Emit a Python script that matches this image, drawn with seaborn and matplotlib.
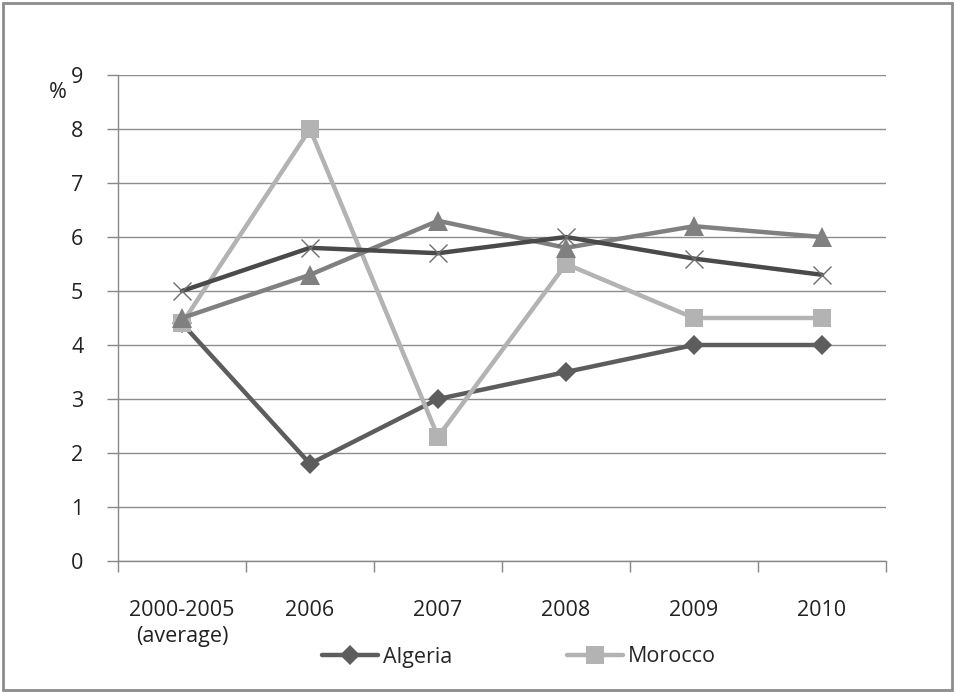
import matplotlib
matplotlib.use("Agg")
import matplotlib.pyplot as plt
import seaborn as sns
import pandas as pd
from matplotlib.lines import Line2D
from matplotlib.patches import Rectangle

categories = ["2000-2005\n(average)", "2006", "2007", "2008", "2009", "2010"]
algeria = [4.4, 1.8, 3.0, 3.5, 4.0, 4.0]
morocco = [4.4, 8.0, 2.3, 5.5, 4.5, 4.5]
series3 = [4.5, 5.3, 6.3, 5.8, 6.2, 6.0]
series4 = [5.0, 5.8, 5.7, 6.0, 5.6, 5.3]

sns.set_theme(style="white")
plt.rcParams['font.family'] = ['Open Sans', 'DejaVu Sans']

FS = 15.5
fig = plt.figure(figsize=(9.56, 6.93), dpi=100)
ax = fig.add_axes([118/956, 132/693, 768/956, 486/693])

xpos = [i + 0.5 for i in range(len(categories))]

styles = [
    (algeria, "Algeria", "#5d5d5d", "D", 10.5),
    (morocco, "Morocco", "#b3b3b3", "s", 13),
    (series3, "S3", "#808080", "^", 14),
    (series4, "S4", "#4a4a4a", "x", 13),
]
for vals, name, col, mk, ms in styles:
    df = pd.DataFrame({"x": xpos, "y": vals})
    if mk == "x":
        sns.lineplot(data=df, x="x", y="y", ax=ax, color=col, linewidth=3.2,
                     marker=mk, markersize=ms, markeredgewidth=1.0,
                     markeredgecolor="#6e6e6e")
    else:
        sns.lineplot(data=df, x="x", y="y", ax=ax, color=col, linewidth=3.2,
                     marker=mk, markersize=ms, markeredgewidth=0,
                     markerfacecolor=col)

ax.set_xlim(0, 6)
ax.set_ylim(0, 9)
ax.set_yticks(range(0, 10))
ax.set_yticklabels([str(i) for i in range(0, 10)], fontsize=FS, color="#222222")
ax.set_xticks(range(0, 7))
ax.set_xticklabels([])
ax.set_xticks(xpos, minor=True)
ax.set_xticklabels(categories, minor=True, fontsize=FS, color="#222222",
                   linespacing=1.3, va="top")
ax.tick_params(axis="x", which="minor", length=0, pad=28)
ax.tick_params(axis="x", which="major", length=8, width=1, color="#888888", direction="out", bottom=True)
ax.tick_params(axis="y", length=8, width=1, color="#888888", direction="out", left=True, pad=17)
ax.set_xlabel("")
ax.set_ylabel("")
ax.yaxis.grid(True, color="#8c8c8c", linewidth=1)
ax.set_axisbelow(True)
for s in ["top", "right"]:
    ax.spines[s].set_visible(False)
for s in ["left", "bottom"]:
    ax.spines[s].set_color("#888888")
    ax.spines[s].set_linewidth(1)

fig.text(58/956, 1 - 93/693, "%", fontsize=FS, ha="center", va="center", color="#222222")

handles = [
    Line2D([], [], color="#5d5d5d", lw=3.2, marker="D", markersize=10.5, markeredgewidth=0),
    Line2D([], [], color="#b3b3b3", lw=3.2, marker="s", markersize=13, markeredgewidth=0),
]
fig.legend(handles, ["Algeria", "Morocco"], loc="center", bbox_to_anchor=(519/956, 1 - 657/693),
           ncol=2, frameon=False, fontsize=FS, handlelength=2.6, columnspacing=5.3,
           handletextpad=0.25)

fig.add_artist(Rectangle((3/956, 3/693), 949/956, 687/693, transform=fig.transFigure,
                         fill=False, edgecolor="#8c8c8c", linewidth=2))

fig.savefig("out.png", dpi=100)
